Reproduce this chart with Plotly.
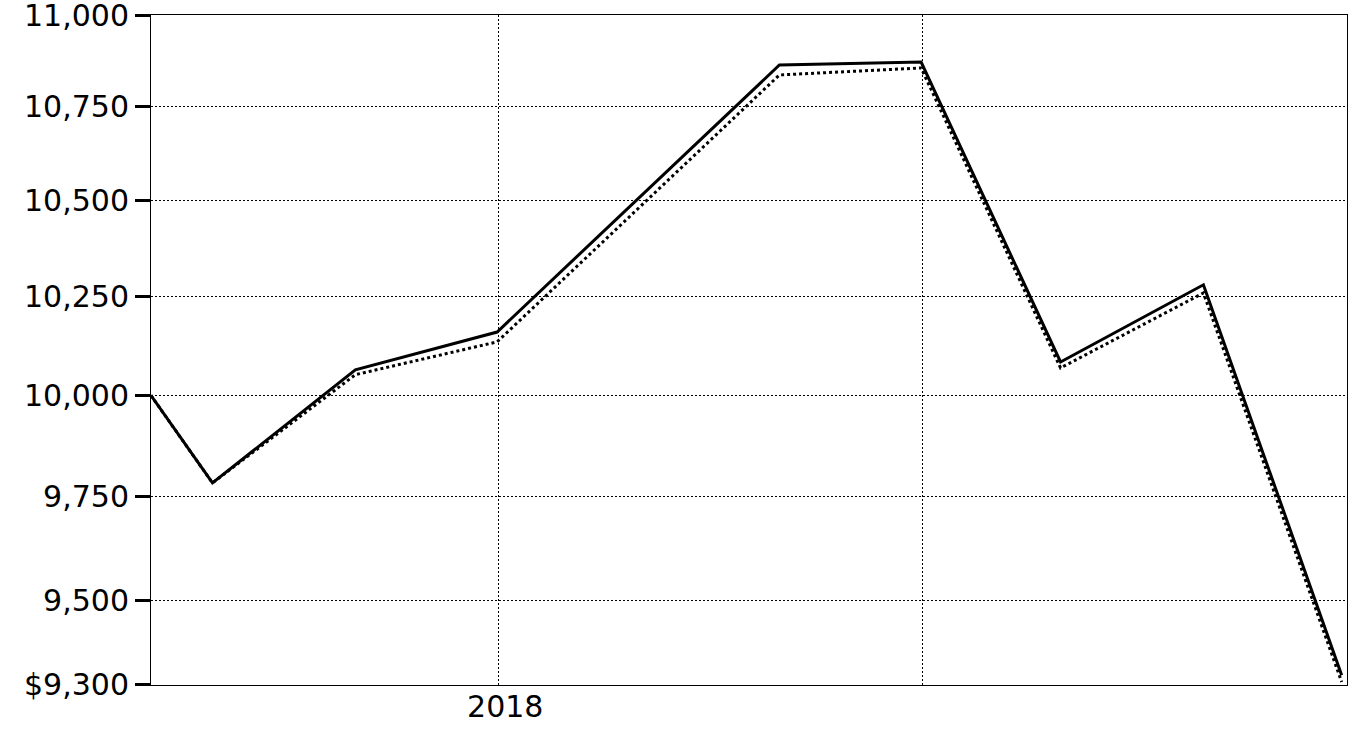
import math
import plotly.graph_objects as go

dates = ["2017-03-08", "2017-04-30", "2017-08-31", "2017-12-31", "2018-08-31",
         "2018-12-31", "2019-04-30", "2019-08-31", "2019-12-28"]
fund_values = [10000, 9783, 10064, 10160, 10863, 10871, 10084, 10281, 9323]
index_values = [10000, 9783, 10052, 10135, 10836, 10855, 10069, 10260, 9307]

y_tickvals = [9300, 9500, 9750, 10000, 10250, 10500, 10750, 11000]
y_ticktext = ["$9,300", "9,500", "9,750", "10,000", "10,250", "10,500", "10,750", "11,000"]
x_tickvals = ["2018-01-01", "2019-01-01"]
x_ticktext = ["2018", ""]

fig = go.Figure()
fig.add_trace(go.Scatter(x=dates, y=index_values, mode="lines",
                         line=dict(color="black", width=3, dash="dot"),
                         showlegend=False))
fig.add_trace(go.Scatter(x=dates, y=fund_values, mode="lines",
                         line=dict(color="black", width=3),
                         showlegend=False))

fig.update_layout(
    width=1363, height=740,
    margin=dict(l=151, r=16, t=15, b=55),
    paper_bgcolor="white", plot_bgcolor="white",
    font=dict(family="DejaVu Sans", size=30, color="black"),
)
fig.update_xaxes(
    type="date", range=["2017-03-08 02:00", "2020-01-01 14:00"],
    tickvals=x_tickvals, ticktext=x_ticktext,
    showgrid=True, gridcolor="black", gridwidth=1, griddash="2px,2px",
    showline=True, linecolor="black", linewidth=1, mirror=True,
    ticks="", zeroline=False, automargin=False,
    ticklabelstandoff=-5, ticklabelshift=7,
)
fig.update_yaxes(
    type="log", range=[math.log10(9300) - 1e-6, math.log10(11000) + 1e-6],
    tickvals=y_tickvals, ticktext=y_ticktext,
    showgrid=True, gridcolor="black", gridwidth=1, griddash="2px,2px",
    showline=True, linecolor="black", linewidth=1, mirror=True,
    ticks="outside", ticklen=15, tickwidth=3, tickcolor="black",
    zeroline=False, automargin=False, ticklabeloverflow="allow",
)
fig.write_html("out.html", config={"displayModeBar": False},
               post_script="document.body.style.margin='0';")
